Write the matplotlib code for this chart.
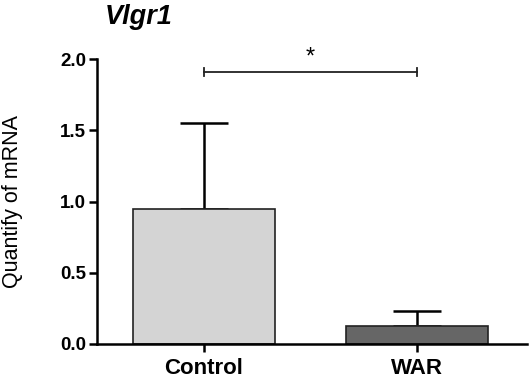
import numpy as np
import matplotlib
matplotlib.use("Agg")
import matplotlib.pyplot as plt

plt.rcParams['font.family'] = ['Liberation Sans', 'DejaVu Sans']

groups = ['Control', 'WAR']
means = [0.95, 0.125]
sem = [0.60, 0.105]
bar_colors = ['#d4d4d4', '#666666']
sig_y = 1.91
sig_label = '*'

fig = plt.figure(figsize=(5.29, 3.80), dpi=100)
ax = fig.add_axes([97/529, 1-344/380, (527-97)/529, (344-59)/380])

x = np.arange(len(groups))
ax.bar(x, means, width=0.67, color=bar_colors, edgecolor='#222222', linewidth=1.2, zorder=2)
ax.errorbar(x, means, yerr=[np.zeros(len(sem)), sem], fmt='none', ecolor='black',
            elinewidth=1.8, capsize=17, capthick=1.8, zorder=1)

# significance bracket
ax.plot([x[0], x[1]], [sig_y, sig_y], color='#222222', lw=1.3, clip_on=False)
ax.plot([x[0], x[0]], [sig_y - 0.03, sig_y + 0.03], color='#222222', lw=1.3)
ax.plot([x[1], x[1]], [sig_y - 0.03, sig_y + 0.03], color='#222222', lw=1.3)
ax.text((x[0] + x[1]) / 2, sig_y + 0.02, sig_label, ha='center', va='bottom', fontsize=17)

ax.set_xlim(-0.502, 1.516)
ax.set_ylim(0, 2.0)
ax.set_yticks([0, 0.5, 1.0, 1.5, 2.0])
ax.set_yticklabels(['0.0', '0.5', '1.0', '1.5', '2.0'])
ax.set_xticks(x)
ax.set_xticklabels(groups)

for s in ['top', 'right']:
    ax.spines[s].set_visible(False)
for s in ['left', 'bottom']:
    ax.spines[s].set_linewidth(1.8)
ax.tick_params(axis='both', width=1.8, length=6, labelsize=13.5, pad=2)
ax.tick_params(axis='x', labelsize=16, pad=4)
for lab in ax.get_yticklabels() + ax.get_xticklabels():
    lab.set_fontweight('bold')

ax.set_ylabel('Quantify of mRNA', fontsize=15.5)
ax.yaxis.set_label_coords(-0.172, 0.5)
fig.text(105/529, 1-4/380, 'Vlgr1', fontsize=19.5, fontweight='bold', fontstyle='italic',
         ha='left', va='top')

fig.savefig('out.png', dpi=100)
